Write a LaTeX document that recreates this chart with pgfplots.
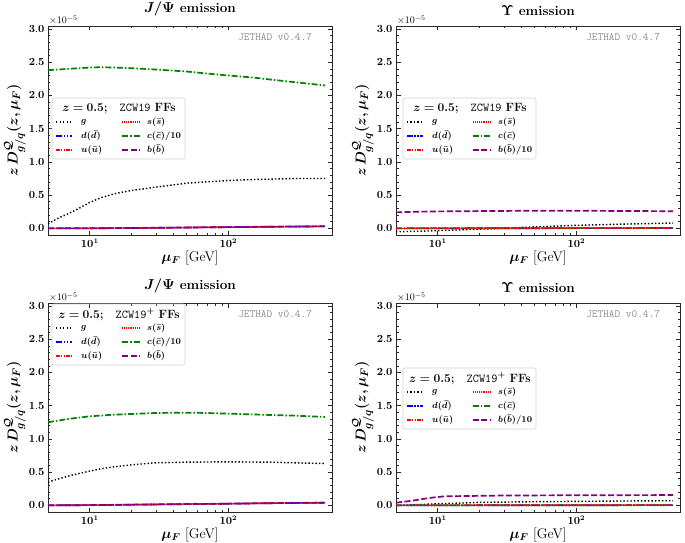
\documentclass[border=0pt]{standalone}
\usepackage{pgfplots}
\pgfplotsset{compat=1.18}
\usepackage{amsmath}
\usepackage{bm}
\definecolor{mpgreen}{RGB}{0,128,0}
\definecolor{mppurple}{RGB}{128,0,128}
\definecolor{framegray}{RGB}{40,40,40}
\tikzset{
  gsty/.style={black, line width=1.4pt, dash pattern=on 1.4pt off 2.1pt},
  ssty/.style={red, line width=1.2pt, dash pattern=on 1.1pt off 1pt},
  dsty/.style={blue, line width=1.6pt, dash pattern=on 6pt off 1.5pt on 1.5pt off 1.5pt on 1.5pt off 1.5pt},
  csty/.style={mpgreen, line width=1.7pt, dash pattern=on 6pt off 2pt on 1.5pt off 2pt},
  usty/.style={red, line width=1.6pt, dash pattern=on 4pt off 1.2pt on 1.2pt off 1.2pt on 1.2pt off 1.2pt},
  bsty/.style={mppurple, line width=1.7pt, dash pattern=on 6pt off 2.5pt},
  legtxt/.style={anchor=west, inner sep=0pt, font=\fontsize{9}{10}\selectfont},
}
\pgfplotsset{
  every axis/.append style={
    scale only axis, width=284pt, height=209pt, clip=false,
    xmin=5, xmax=560, ymin=-0.1, ymax=3.045,
    axis line style={line width=0.9pt, framegray},
    tick style={line width=0.6pt, framegray},
    tick align=inside,
    major tick length=4.5pt, minor tick length=2.5pt,
    xtick={10,100}, xticklabels={$\mathbf{10^{1}}$,$\mathbf{10^{2}}$},
    ytick={0,0.5,1,1.5,2,2.5,3},
    yticklabels={$\mathbf{0.0}$,$\mathbf{0.5}$,$\mathbf{1.0}$,$\mathbf{1.5}$,$\mathbf{2.0}$,$\mathbf{2.5}$,$\mathbf{3.0}$},
    minor y tick num=4,
    tick label style={font=\fontsize{10.5}{12}\selectfont},
    xlabel={$\bm{\mu_F}$ {[GeV]}},
    xlabel style={font=\fontsize{14}{16}\selectfont, yshift=3pt},
    ylabel={$\bm{z\,D^{\mathcal{Q}}_{g/q}(z,\mu_F)}$},
    ylabel style={font=\fontsize{15}{17}\selectfont, yshift=-4pt},
    title style={font=\fontsize{13.5}{15}\selectfont\bfseries, yshift=0.5pt},
  },
}
\newcommand{\extras}{%
  \node[anchor=south west, font=\fontsize{10}{11}\selectfont, inner sep=1pt] at (rel axis cs:0,1) {$\times10^{-5}$};
  \node[anchor=north east, font=\fontsize{11}{12}\selectfont\ttfamily, text=black!45, inner sep=0pt] at (rel axis cs:0.93,0.965) {JETHAD v0.4.7};
}
% legend drawn relative to coordinate (L) = top-left corner of the legend frame
\newcommand{\mylegend}[3]{%
  \draw[gray!35, line width=0.6pt, rounded corners=2pt] (L) rectangle ([xshift=133pt,yshift=-61pt]L);
  \node[font=\fontsize{12}{14}\selectfont, inner sep=0pt] at ([xshift=67pt,yshift=-10.5pt]L) {#3};
  \draw[gsty] ([xshift=4pt,yshift=-24pt]L) -- ++(16pt,0pt);
  \node[legtxt] at ([xshift=29pt,yshift=-24pt]L) {$\bm{g}$};
  \draw[dsty] ([xshift=4pt,yshift=-38pt]L) -- ++(16pt,0pt);
  \node[legtxt] at ([xshift=29pt,yshift=-38pt]L) {$\bm{d(\bar{d})}$};
  \draw[usty] ([xshift=4pt,yshift=-52pt]L) -- ++(16pt,0pt);
  \node[legtxt] at ([xshift=29pt,yshift=-52pt]L) {$\bm{u(\bar{u})}$};
  \draw[ssty] ([xshift=70pt,yshift=-24pt]L) -- ++(18pt,0pt);
  \node[legtxt] at ([xshift=95pt,yshift=-24pt]L) {$\bm{s(\bar{s})}$};
  \draw[csty] ([xshift=70pt,yshift=-38pt]L) -- ++(18pt,0pt);
  \node[legtxt] at ([xshift=95pt,yshift=-38pt]L) {#1};
  \draw[bsty] ([xshift=70pt,yshift=-52pt]L) -- ++(18pt,0pt);
  \node[legtxt] at ([xshift=95pt,yshift=-52pt]L) {#2};
}
\begin{document}
\begin{tikzpicture}
\useasboundingbox (0pt,0pt) rectangle (685pt,-543pt);

% ---------------- top left ----------------
\begin{semilogxaxis}[at={(48pt,-26pt)}, anchor=north west,
  title={$\bm{J/\Psi}$ emission}]
\addplot[gsty] coordinates {(5,0.07) (6,0.16) (7,0.22) (8,0.28) (10,0.39) (12,0.46) (15,0.52) (20,0.57) (30,0.62) (50,0.68) (70,0.70) (100,0.72) (150,0.735) (200,0.74) (300,0.75) (500,0.75)};
\addplot[ssty] coordinates {(5,0.0) (10,0.0) (20,0.005) (50,0.012) (100,0.018) (200,0.024) (500,0.03)};
\addplot[dsty] coordinates {(5,0.0) (10,0.0) (20,0.005) (50,0.012) (100,0.018) (200,0.024) (500,0.03)};
\addplot[csty] coordinates {(5,2.38) (7,2.40) (10,2.42) (12,2.425) (15,2.42) (20,2.41) (30,2.39) (50,2.36) (70,2.33) (100,2.30) (150,2.27) (200,2.24) (300,2.20) (500,2.15)};
\addplot[usty] coordinates {(5,0.0) (10,0.0) (20,0.005) (50,0.012) (100,0.018) (200,0.024) (500,0.03)};
\addplot[bsty] coordinates {(5,0.0) (10,0.001) (20,0.006) (50,0.013) (100,0.019) (200,0.025) (500,0.031)};
\coordinate (L) at (rel axis cs:0.0141,0.6555);
\mylegend{$\bm{c(\bar{c})/10}$}{$\bm{b(\bar{b})}$}{$\bm{z = 0.5;}$\quad\texttt{ZCW19} \textbf{FFs}}
\extras
\end{semilogxaxis}

% ---------------- top right ----------------
\begin{semilogxaxis}[at={(396pt,-26pt)}, anchor=north west,
  title={$\bm{\Upsilon}$ emission}]
\addplot[gsty] coordinates {(5,-0.05) (7,-0.045) (10,-0.035) (15,-0.022) (20,-0.012) (30,0.003) (50,0.022) (100,0.045) (200,0.062) (500,0.08)};
\addplot[ssty] coordinates {(5,0.0) (20,0.001) (100,0.003) (500,0.005)};
\addplot[dsty] coordinates {(5,0.0) (20,0.001) (100,0.003) (500,0.005)};
\addplot[csty] coordinates {(5,0.0) (20,0.001) (100,0.003) (500,0.005)};
\addplot[usty] coordinates {(5,0.0) (20,0.001) (100,0.003) (500,0.005)};
\addplot[bsty] coordinates {(5,0.24) (7,0.25) (10,0.255) (20,0.26) (50,0.265) (100,0.265) (200,0.262) (500,0.258)};
\coordinate (L) at (rel axis cs:0.0246,0.6555);
\mylegend{$\bm{c(\bar{c})}$}{$\bm{b(\bar{b})/10}$}{$\bm{z = 0.5;}$\quad\texttt{ZCW19} \textbf{FFs}}
\extras
\end{semilogxaxis}

% ---------------- bottom left ----------------
\begin{semilogxaxis}[at={(48pt,-303pt)}, anchor=north west,
  title={$\bm{J/\Psi}$ emission}]
\addplot[gsty] coordinates {(5,0.35) (6,0.40) (7,0.44) (8,0.47) (10,0.515) (12,0.55) (15,0.58) (20,0.61) (30,0.64) (50,0.65) (100,0.655) (200,0.65) (300,0.64) (500,0.63)};
\addplot[ssty] coordinates {(5,0.0) (10,0.003) (20,0.01) (50,0.018) (100,0.025) (200,0.032) (500,0.04)};
\addplot[dsty] coordinates {(5,0.0) (10,0.003) (20,0.01) (50,0.018) (100,0.025) (200,0.032) (500,0.04)};
\addplot[csty] coordinates {(5,1.25) (7,1.30) (10,1.34) (15,1.365) (20,1.375) (30,1.39) (50,1.395) (70,1.39) (100,1.38) (200,1.36) (300,1.35) (500,1.33)};
\addplot[usty] coordinates {(5,0.0) (10,0.003) (20,0.01) (50,0.018) (100,0.025) (200,0.032) (500,0.04)};
\addplot[bsty] coordinates {(5,0.0) (10,0.004) (20,0.011) (50,0.019) (100,0.026) (200,0.033) (500,0.041)};
\coordinate (L) at (rel axis cs:0.0141,0.9952);
\mylegend{$\bm{c(\bar{c})/10}$}{$\bm{b(\bar{b})}$}{$\bm{z = 0.5;}$\quad\texttt{ZCW19}$^{\bm{+}}$ \textbf{FFs}}
\extras
\end{semilogxaxis}

% ---------------- bottom right ----------------
\begin{semilogxaxis}[at={(396pt,-303pt)}, anchor=north west,
  title={$\bm{\Upsilon}$ emission}]
\addplot[gsty] coordinates {(5,0.0) (7,0.01) (10,0.025) (15,0.035) (20,0.045) (50,0.055) (100,0.06) (200,0.065) (500,0.07)};
\addplot[ssty] coordinates {(5,0.0) (20,0.001) (100,0.002) (500,0.003)};
\addplot[dsty] coordinates {(5,0.0) (20,0.001) (100,0.002) (500,0.003)};
\addplot[csty] coordinates {(5,0.0) (20,0.001) (100,0.002) (500,0.003)};
\addplot[usty] coordinates {(5,0.0) (20,0.001) (100,0.002) (500,0.003)};
\addplot[bsty] coordinates {(5,0.04) (6,0.06) (7,0.08) (8,0.10) (9,0.115) (10,0.125) (11,0.135) (15,0.14) (30,0.148) (100,0.152) (500,0.155)};
\coordinate (L) at (rel axis cs:0.0246,0.689);
\mylegend{$\bm{c(\bar{c})}$}{$\bm{b(\bar{b})/10}$}{$\bm{z = 0.5;}$\quad\texttt{ZCW19}$^{\bm{+}}$ \textbf{FFs}}
\extras
\end{semilogxaxis}
\end{tikzpicture}
\end{document}
